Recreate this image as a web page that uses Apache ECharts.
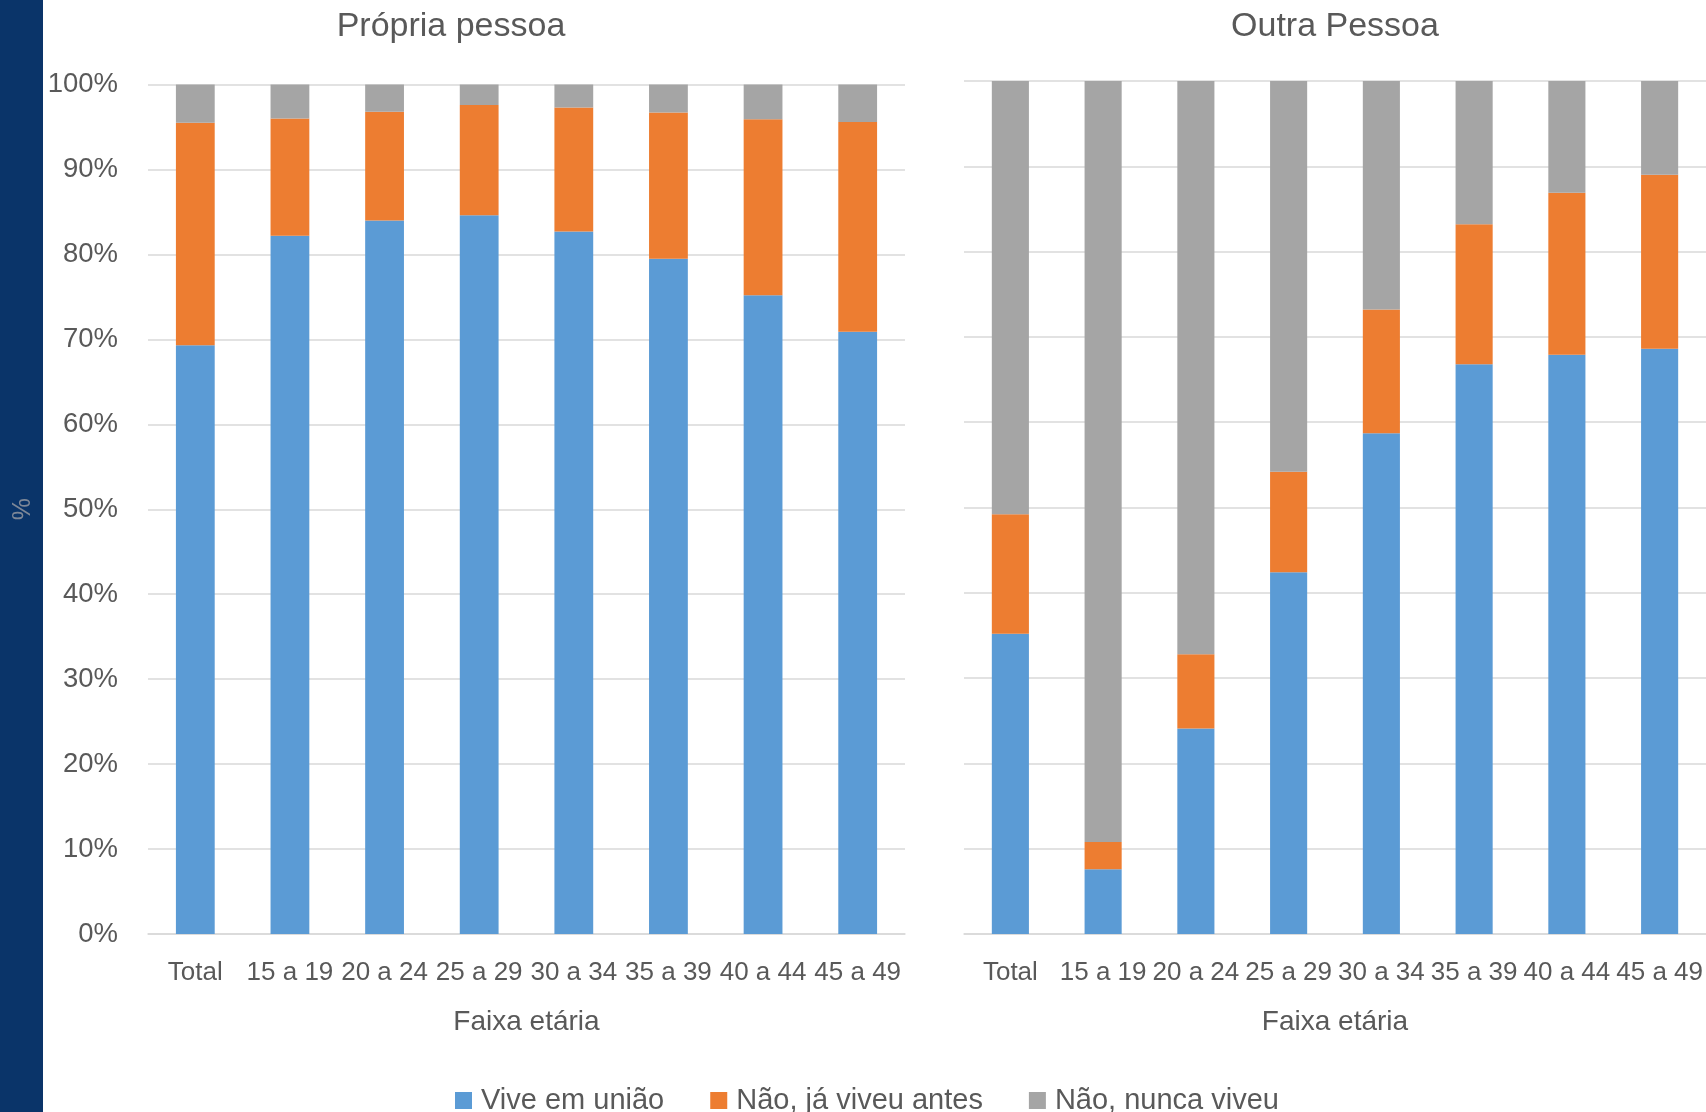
<!DOCTYPE html>
<html>
<head>
<meta charset="utf-8">
<script src="https://cdn.jsdelivr.net/npm/echarts@6/dist/echarts.min.js"></script>
<style>
html,body{margin:0;padding:0;background:#fff;}
#chart{width:1706px;height:1112px;}
</style>
</head>
<body>
<div id="chart"></div>
<script>
var categories = ['Total','15 a 19','20 a 24','25 a 29','30 a 34','35 a 39','40 a 44','45 a 49'];
var seriesNames = ['Vive em união','Não, já viveu antes','Não, nunca viveu'];
var panelTitles = ['Própria pessoa','Outra Pessoa'];
var yTicks = [0,10,20,30,40,50,60,70,80,90,100];

var propriaVive  = [69.3, 82.2, 84.0, 84.6, 82.7, 79.5, 75.2, 70.9];
var propriaJa    = [26.2, 13.8, 12.8, 13.0, 14.6, 17.2, 20.7, 24.7];
var propriaNunca = [4.5, 4.0, 3.2, 2.4, 2.7, 3.3, 4.1, 4.4];

var outraVive  = [35.2, 7.6, 24.1, 42.4, 58.7, 66.8, 67.9, 68.6];
var outraJa    = [14.0, 3.2, 8.7, 11.8, 14.5, 16.4, 19.0, 20.4];
var outraNunca = [50.8, 89.2, 67.2, 45.8, 26.8, 16.8, 13.1, 11.0];

var colors = ['#5b9bd5','#ed7d31','#a5a5a5'];
var FONT = '"Liberation Sans", Arial, sans-serif';
var TXT = '#595959';

var chart = echarts.init(document.getElementById('chart'), null, {renderer:'canvas'});

function xAxis(gi){
  return {
    type:'category', gridIndex:gi, data:categories,
    axisLine:{show:true, lineStyle:{color:'#d9d9d9', width:1.5}},
    axisTick:{show:false},
    axisLabel:{interval:0, color:TXT, fontFamily:FONT, fontSize:26, margin:26},
    name:'Faixa etária', nameLocation:'middle', nameGap:74,
    nameTextStyle:{color:TXT, fontFamily:FONT, fontSize:28}
  };
}
function yAxis(gi, showLabels){
  var o = {
    type:'value', gridIndex:gi, min:yTicks[0], max:yTicks[yTicks.length-1], interval:10,
    axisLine:{show:false}, axisTick:{show:false},
    splitLine:{show:true, lineStyle:{color:'#d9d9d9', width:1.5}},
    axisLabel:{show:showLabels, color:TXT, fontFamily:FONT, fontSize:27.5, margin:30, formatter:'{value}%'}
  };
  if(showLabels){
    o.name='%'; o.nameLocation='middle'; o.nameGap=112; o.nameRotate=90;
    o.nameTextStyle={color:'#7d8797', fontFamily:FONT, fontSize:25};
  }
  return o;
}
function bar(name, data, gi, stack, color, bw){
  return {
    name:name, type:'bar', stack:stack, xAxisIndex:gi, yAxisIndex:gi,
    data:data, barWidth:bw, itemStyle:{color:color}, emphasis:{disabled:true}, animation:false
  };
}

var option = {
  animation:false,
  textStyle:{fontFamily:FONT},
  graphic:[{type:'rect', left:0, top:0, z:-1, shape:{width:43, height:1112}, style:{fill:'#0a3469'}}],
  title:[
    {text:panelTitles[0], left:446, top:5, textAlign:'center', textStyle:{color:TXT, fontFamily:FONT, fontSize:34, fontWeight:'normal'}},
    {text:panelTitles[1], left:1330, top:5, textAlign:'center', textStyle:{color:TXT, fontFamily:FONT, fontSize:34, fontWeight:'normal'}}
  ],
  legend:{
    data:seriesNames, left:450, top:1081, icon:'rect', itemWidth:17, itemHeight:17, itemGap:46,
    textStyle:{color:TXT, fontFamily:FONT, fontSize:29, padding:[0,0,0,4]}
  },
  grid:[
    {left:148, top:84.5, width:757, height:849.5, containLabel:false},
    {left:964, top:81, width:743, height:853, containLabel:false}
  ],
  xAxis:[xAxis(0), xAxis(1)],
  yAxis:[yAxis(0,true), yAxis(1,false)],
  series:[
    bar(seriesNames[0], propriaVive, 0, 'p', colors[0], '41%'),
    bar(seriesNames[1], propriaJa, 0, 'p', colors[1], '41%'),
    bar(seriesNames[2], propriaNunca, 0, 'p', colors[2], '41%'),
    bar(seriesNames[0], outraVive, 1, 'o', colors[0], '40%'),
    bar(seriesNames[1], outraJa, 1, 'o', colors[1], '40%'),
    bar(seriesNames[2], outraNunca, 1, 'o', colors[2], '40%')
  ]
};
chart.setOption(option);
</script>
</body>
</html>
